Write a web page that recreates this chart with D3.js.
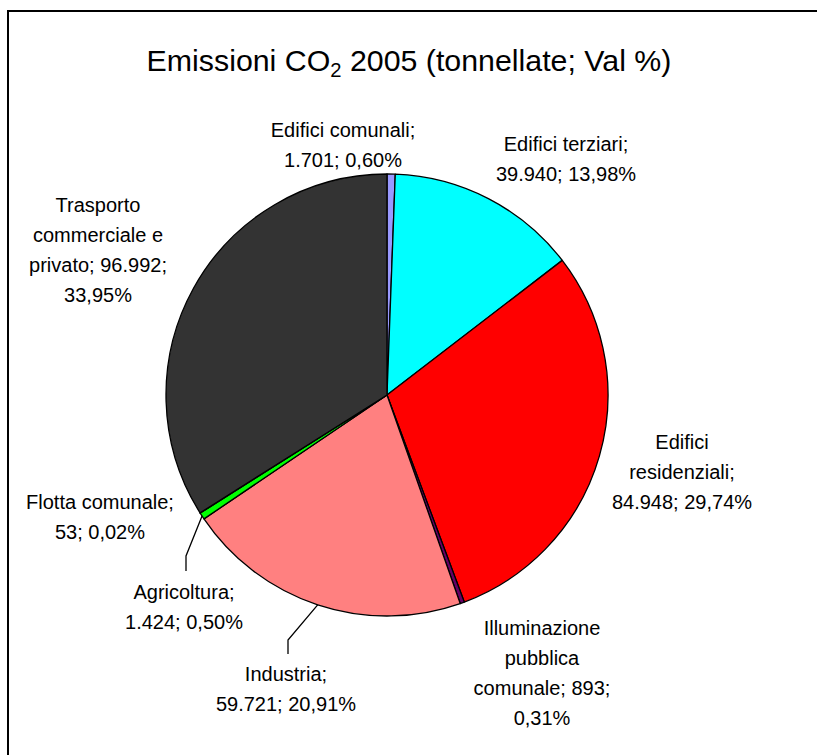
<!DOCTYPE html>
<html>
<head>
<meta charset="utf-8">
<script src="https://cdn.jsdelivr.net/npm/d3@7"></script>
<style>
  html, body { margin: 0; padding: 0; background: #fff; }
  svg { display: block; }
  text { font-family: "Liberation Sans", Arial, sans-serif; fill: #000; }
</style>
</head>
<body>
<script>
// ---- data ----
const categories = [
  "Edifici comunali", "Edifici terziari", "Edifici residenziali",
  "Illuminazione pubblica comunale", "Industria", "Agricoltura",
  "Flotta comunale", "Trasporto commerciale e privato"
];
const values = [1701, 39940, 84948, 893, 59721, 1424, 53, 96992];
const valueLabels = ["1.701", "39.940", "84.948", "893", "59.721", "1.424", "53", "96.992"];
const percentLabels = ["0,60%", "13,98%", "29,74%", "0,31%", "20,91%", "0,50%", "0,02%", "33,95%"];
const colors = ["#9999FF", "#00FFFF", "#FF0000", "#660066", "#FF8080", "#00FF00", "#00CC00", "#333333"];
// label lines (wrapped like the original)
const labelLines = [
  ["Edifici comunali;", "1.701; 0,60%"],
  ["Edifici terziari;", "39.940; 13,98%"],
  ["Edifici", "residenziali;", "84.948; 29,74%"],
  ["Illuminazione", "pubblica", "comunale; 893;", "0,31%"],
  ["Industria;", "59.721; 20,91%"],
  ["Agricoltura;", "1.424; 0,50%"],
  ["Flotta comunale;", "53; 0,02%"],
  ["Trasporto", "commerciale e", "privato; 96.992;", "33,95%"]
];

// ---- layout ----
const W = 817, H = 755;
const cx = 387, cy = 395, R = 221;
const lineH = 30;
const labelPos = [ // [center x, first baseline y]
  [343, 137], [566, 151], [682, 449], [542, 635],
  [286, 681], [184, 599], [100, 509], [98, 212]
];
// leader lines: [bend point, end point] (start is on arc midpoint)
const leaders = { 4: [[288, 640], [288, 654]], 5: [[186, 556], [186, 571]] };

const svg = d3.select("body").append("svg").attr("width", W).attr("height", H);
svg.append("rect").attr("width", W).attr("height", H).attr("fill", "#fff");

// frame (only top & left visible)
svg.append("rect").attr("x", 8).attr("y", 11).attr("width", 900).attr("height", 900)
  .attr("fill", "none").attr("stroke", "#000").attr("stroke-width", 2);

// title
const title = svg.append("text").attr("x", 409).attr("y", 71).attr("text-anchor", "middle")
  .attr("font-size", 30);
title.append("tspan").text("Emissioni CO");
title.append("tspan").attr("font-size", 20).attr("dy", 6).text("2");
title.append("tspan").attr("dy", -6).text(" 2005 (tonnellate; Val %)");
// condense horizontally to match original width
const tw = title.node().getComputedTextLength();
const targetW = 525;
title.attr("transform", `translate(409,0) scale(${targetW / tw},1) translate(-409,0)`);

// pie
const data = categories.map((c, i) => ({ c, v: values[i], i }));
const pie = d3.pie().value(d => d.v).sort(null).startAngle(0).endAngle(2 * Math.PI);
const arcs = pie(data);
const arc = d3.arc().innerRadius(0).outerRadius(R);

const g = svg.append("g").attr("transform", `translate(${cx},${cy})`);
g.selectAll("path").data(arcs).join("path")
  .attr("d", arc)
  .attr("fill", d => colors[d.data.i])
  .attr("stroke", "#000")
  .attr("stroke-width", 1.3)
  .attr("stroke-linejoin", "round");

// leader lines
Object.keys(leaders).forEach(k => {
  const a = arcs[+k];
  const mid = (a.startAngle + a.endAngle) / 2;
  const sx = cx + R * Math.sin(mid), sy = cy - R * Math.cos(mid);
  const pts = [[sx, sy], ...leaders[k]];
  svg.append("path").attr("d", d3.line()(pts)).attr("fill", "none")
    .attr("stroke", "#000").attr("stroke-width", 1.3);
});

// labels
labelLines.forEach((lines, i) => {
  const [x, y] = labelPos[i];
  const t = svg.append("text").attr("text-anchor", "middle").attr("font-size", 20);
  lines.forEach((ln, j) => {
    t.append("tspan").attr("x", x).attr("y", y + j * lineH).text(ln);
  });
});
</script>
</body>
</html>
